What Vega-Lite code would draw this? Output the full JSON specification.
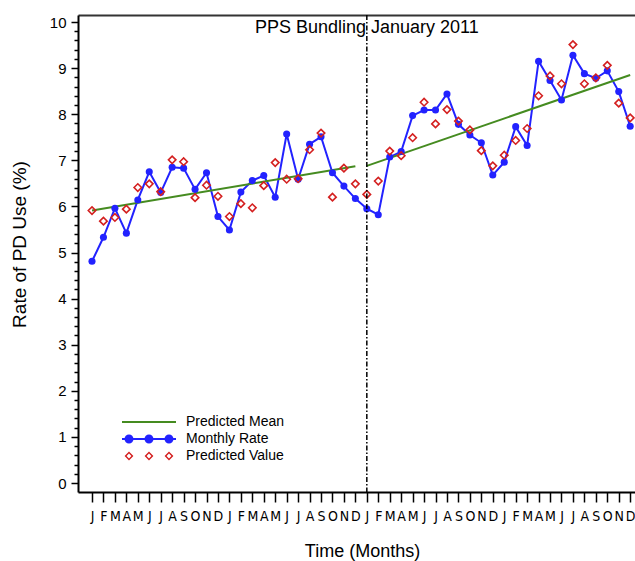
{
  "$schema": "https://vega.github.io/schema/vega-lite/v6.json",
  "autosize": {"type": "none"},
  "padding": {"left": 78, "top": 15, "right": 0, "bottom": 69},
  "width": 557,
  "height": 477,
  "background": "white",
  "config": {
    "view": {"stroke": null},
    "axis": {"grid": false, "domainColor": "black", "tickColor": "black", "labelColor": "black", "titleColor": "black", "labelFont": "Liberation Sans", "titleFont": "Liberation Sans", "titleFontWeight": "normal"},
    "legend": {"labelFont": "Liberation Sans", "labelColor": "black"}
  },
  "data": {
    "values": [
      {"m": 0, "rate": 4.81, "pred": 5.91},
      {"m": 1, "rate": 5.33, "pred": 5.68},
      {"m": 2, "rate": 5.96, "pred": 5.76},
      {"m": 3, "rate": 5.42, "pred": 5.94},
      {"m": 4, "rate": 6.14, "pred": 6.41},
      {"m": 5, "rate": 6.75, "pred": 6.49},
      {"m": 6, "rate": 6.30, "pred": 6.32},
      {"m": 7, "rate": 6.85, "pred": 7.01},
      {"m": 8, "rate": 6.83, "pred": 6.97},
      {"m": 9, "rate": 6.37, "pred": 6.19},
      {"m": 10, "rate": 6.73, "pred": 6.46},
      {"m": 11, "rate": 5.78, "pred": 6.22},
      {"m": 12, "rate": 5.49, "pred": 5.78},
      {"m": 13, "rate": 6.31, "pred": 6.06},
      {"m": 14, "rate": 6.56, "pred": 5.97},
      {"m": 15, "rate": 6.67, "pred": 6.45},
      {"m": 16, "rate": 6.20, "pred": 6.95},
      {"m": 17, "rate": 7.57, "pred": 6.59},
      {"m": 18, "rate": 6.59, "pred": 6.60},
      {"m": 19, "rate": 7.35, "pred": 7.23},
      {"m": 20, "rate": 7.51, "pred": 7.59},
      {"m": 21, "rate": 6.73, "pred": 6.20},
      {"m": 22, "rate": 6.44, "pred": 6.83},
      {"m": 23, "rate": 6.17, "pred": 6.49},
      {"m": 24, "rate": 5.95, "pred": 6.26},
      {"m": 25, "rate": 5.82, "pred": 6.55},
      {"m": 26, "rate": 7.07, "pred": 7.20},
      {"m": 27, "rate": 7.19, "pred": 7.10},
      {"m": 28, "rate": 7.97, "pred": 7.49},
      {"m": 29, "rate": 8.09, "pred": 8.26},
      {"m": 30, "rate": 8.09, "pred": 7.79},
      {"m": 31, "rate": 8.44, "pred": 8.10},
      {"m": 32, "rate": 7.78, "pred": 7.85},
      {"m": 33, "rate": 7.55, "pred": 7.66},
      {"m": 34, "rate": 7.38, "pred": 7.21},
      {"m": 35, "rate": 6.68, "pred": 6.88},
      {"m": 36, "rate": 6.96, "pred": 7.11},
      {"m": 37, "rate": 7.73, "pred": 7.43},
      {"m": 38, "rate": 7.32, "pred": 7.69},
      {"m": 39, "rate": 9.15, "pred": 8.40},
      {"m": 40, "rate": 8.73, "pred": 8.83},
      {"m": 41, "rate": 8.31, "pred": 8.66},
      {"m": 42, "rate": 9.28, "pred": 9.51},
      {"m": 43, "rate": 8.88, "pred": 8.66},
      {"m": 44, "rate": 8.78, "pred": 8.79},
      {"m": 45, "rate": 8.94, "pred": 9.06},
      {"m": 46, "rate": 8.49, "pred": 8.24},
      {"m": 47, "rate": 7.74, "pred": 7.92}
    ]
  },
  "resolve": {"axis": {"x": "independent", "y": "independent"}},
  "layer": [
    {
      "mark": {"type": "line", "color": "#2222ff", "strokeWidth": 2},
      "encoding": {
        "x": {
          "field": "m", "type": "quantitative", "scale": {"domain": [-1.223, 47.42], "nice": false, "zero": false},
          "axis": {
            "title": "Time (Months)", "titleFontSize": 18, "titlePadding": 19, "titleX": 284,
            "values": [0,1,2,3,4,5,6,7,8,9,10,11,12,13,14,15,16,17,18,19,20,21,22,23,24,25,26,27,28,29,30,31,32,33,34,35,36,37,38,39,40,41,42,43,44,45,46,47],
            "labelExpr": "substring('JFMAMJJASOND', datum.value % 12, datum.value % 12 + 1)",
            "labelOverlap": false, "labelFlush": false, "labelFontSize": 14, "labelFont": "Liberation Sans Narrow, DejaVu Sans Condensed, Liberation Sans",
            "tickSize": 10, "tickWidth": 1.5, "labelPadding": 7, "domainWidth": 2
          }
        },
        "y": {
          "field": "rate", "type": "quantitative", "scale": {"domain": [-0.195, 10.152], "nice": false, "zero": false},
          "axis": {
            "title": "Rate of PD Use (%)", "titleFontSize": 19, "titlePadding": 20, "titleY": 229,
            "values": [0,0.2,0.4,0.6,0.8,1,1.2,1.4,1.6,1.8,2,2.2,2.4,2.6,2.8,3,3.2,3.4,3.6,3.8,4,4.2,4.4,4.6,4.8,5,5.2,5.4,5.6,5.8,6,6.2,6.4,6.6,6.8,7,7.2,7.4,7.6,7.8,8,8.2,8.4,8.6,8.8,9,9.2,9.4,9.6,9.8,10],
            "labelExpr": "datum.value % 1 == 0 ? format(datum.value, 'd') : ''",
            "labelOverlap": false, "labelFontSize": 15,
            "tickSize": {"condition": {"test": "datum.value % 1 == 0", "value": 7}, "value": 4},
            "tickWidth": 1.5, "labelPadding": 5, "domainWidth": 2
          }
        }
      }
    },
    {
      "data": {"values": [
        {"m": 0, "mean": 5.91, "seg": 1, "series": "Predicted Mean"},
        {"m": 23, "mean": 6.87, "seg": 1, "series": "Predicted Mean"},
        {"m": 24, "mean": 6.88, "seg": 2, "series": "Predicted Mean"},
        {"m": 47, "mean": 8.85, "seg": 2, "series": "Predicted Mean"}
      ]},
      "mark": {"type": "line", "strokeWidth": 2},
      "encoding": {
        "x": {"field": "m", "type": "quantitative", "scale": {"domain": [-1.223, 47.42], "nice": false, "zero": false}, "axis": null},
        "y": {"field": "mean", "type": "quantitative", "scale": {"domain": [-0.195, 10.152], "nice": false, "zero": false}, "axis": null},
        "detail": {"field": "seg"},
        "color": {
          "field": "series", "type": "nominal",
          "scale": {"domain": ["Predicted Mean", "Monthly Rate", "Predicted Value"], "range": ["#458b20", "#2222ff", "#d42020"]},
          "legend": {
            "orient": "none", "legendX": 63, "legendY": 399, "title": null, "padding": 0,
            "symbolSize": 256, "labelFontSize": 14, "labelOffset": 29, "rowPadding": 2,
            "encode": {"symbols": {"update": {
              "shape": {"signal": "datum.value == 'Monthly Rate' ? 'M-3.375,-0.14H3.375V0.14H-3.375Z M-3.0625,0A0.5625,0.5625 0 1,1 -1.9375,0A0.5625,0.5625 0 1,1 -3.0625,0Z M-0.5625,0A0.5625,0.5625 0 1,1 0.5625,0A0.5625,0.5625 0 1,1 -0.5625,0Z M1.9375,0A0.5625,0.5625 0 1,1 3.0625,0A0.5625,0.5625 0 1,1 1.9375,0Z' : datum.value == 'Predicted Value' ? 'M-2.5,-0.55L-1.95,0L-2.5,0.55L-3.05,0Z M-2.5,-0.3L-2.8,0L-2.5,0.3L-2.2,0Z M0,-0.55L0.55,0L0,0.55L-0.55,0Z M0,-0.3L-0.3,0L0,0.3L0.3,0Z M2.5,-0.55L3.05,0L2.5,0.55L1.95,0Z M2.5,-0.3L2.2,0L2.5,0.3L2.8,0Z' : 'M-3.375,-0.125H3.375V0.125H-3.375Z'"},
              "fill": {"signal": "datum.value == 'Monthly Rate' ? '#2222ff' : datum.value == 'Predicted Value' ? '#d42020' : '#458b20'"},
              "fillOpacity": {"value": 1},
              "opacity": {"value": 1},
              "strokeWidth": {"value": 0}
            }}}
          }
        }
      }
    },
    {
      "mark": {"type": "point", "shape": "circle", "filled": true, "color": "#2222ff", "size": 50, "opacity": 1},
      "encoding": {
        "x": {"field": "m", "type": "quantitative", "scale": {"domain": [-1.223, 47.42], "nice": false, "zero": false}, "axis": null},
        "y": {"field": "rate", "type": "quantitative", "scale": {"domain": [-0.195, 10.152], "nice": false, "zero": false}, "axis": null}
      }
    },
    {
      "mark": {"type": "point", "shape": "diamond", "filled": false, "color": "#d42020", "size": 56, "strokeWidth": 1.6, "opacity": 1},
      "encoding": {
        "x": {"field": "m", "type": "quantitative", "scale": {"domain": [-1.223, 47.42], "nice": false, "zero": false}, "axis": null},
        "y": {"field": "pred", "type": "quantitative", "scale": {"domain": [-0.195, 10.152], "nice": false, "zero": false}, "axis": null}
      }
    },
    {
      "data": {"values": [{"b": 24}]},
      "mark": {"type": "rule", "color": "black", "strokeWidth": 1.5, "strokeDash": [5, 2, 1.5, 2]},
      "encoding": {
        "x": {"field": "b", "type": "quantitative", "scale": {"domain": [-1.223, 47.42], "nice": false, "zero": false},
          "axis": {"orient": "top", "labels": false, "ticks": false, "title": null, "domainWidth": 2, "domainColor": "#333333"}}
      }
    },
    {
      "data": {"values": [{"b": 24, "v": 9.87, "t": "PPS Bundling January 2011"}]},
      "mark": {"type": "text", "fontSize": 18, "font": "Liberation Sans", "baseline": "middle", "align": "center", "color": "black"},
      "encoding": {
        "x": {"field": "b", "type": "quantitative", "scale": {"domain": [-1.223, 47.42], "nice": false, "zero": false}, "axis": null},
        "y": {"field": "v", "type": "quantitative", "scale": {"domain": [-0.195, 10.152], "nice": false, "zero": false}, "axis": null},
        "text": {"field": "t"}
      }
    }
  ]
}
